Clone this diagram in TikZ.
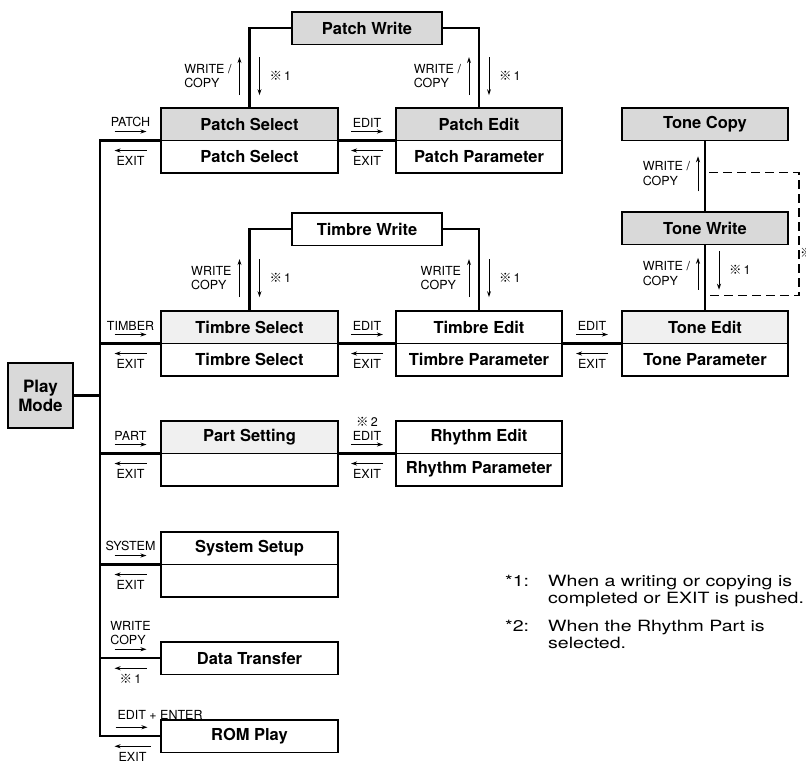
\documentclass[tikz,border=0pt]{standalone}
\usepackage{fontspec}
\setmainfont{TeX Gyre Heros}
\newfontfamily\notefont[FakeStretch=1.26]{TeX Gyre Heros}
\newfontfamily\cjk{Noto Sans CJK JP}
\usepackage{tikz}
\usetikzlibrary{arrows.meta,positioning,calc}

\newcommand{\refmark}[1]{{\cjk\bfseries ※}\,#1}

\begin{document}
\begin{tikzpicture}[
    x = 1pt, y = -1pt,
    >=Stealth,
    every node/.style = {font=\fontsize{12.5}{14.5}\selectfont},
    % Named styles
    box/.style      = {draw, line width=1.5pt, outer sep=0pt, inner sep=0pt,
                       minimum height=32.5pt,
                       font=\fontsize{16.5}{19}\selectfont\bfseries},
    selbox/.style   = {box, minimum width=177pt},
    editbox/.style  = {box, minimum width=166pt},
    writebox/.style = {box, minimum width=150pt},
    graybox/.style  = {fill=gray!30},
    lightbox/.style = {fill=gray!12},
    link/.style     = {line width=2.2pt},
    keyarrow/.style = {-{Stealth[length=6pt,width=4pt]}, line width=1pt},
    keylab/.style   = {inner sep=1.5pt, align=left},
    dashlink/.style = {dashed, dash pattern=on 9pt off 5pt, line width=1.2pt},
    note/.style     = {font=\notefont\fontsize{15.5}{17}\selectfont, align=left,
                       inner sep=0pt, anchor=north west},
]
\useasboundingbox (0,0) rectangle (806,764);

% ── Dimensions (1pt = 1 pixel of the page) ───────────────────────────────────
\def\busx{100}   % x of the bus line from Play Mode

% ── Play mode ─────────────────────────────────────────────────────────────────
\node[box, graybox, minimum width=65pt, minimum height=65pt, align=center,
      font=\fontsize{17}{19}\selectfont\bfseries] (play) at (40.5,395.5) {Play\\Mode};
\coordinate (bus) at (\busx,0);

% ── Patch ─────────────────────────────────────────────────────────────────────
\node[selbox, graybox, anchor=north west] (psel) at (161,108) {Patch Select};
\node[selbox, below=0pt of psel] (pselpar) {Patch Select};
\node[editbox, graybox, anchor=north west] (pedit) at (396,108) {Patch Edit};
\node[editbox, below=0pt of pedit] (pedpar) {Patch Parameter};
\node[writebox, graybox, anchor=north west] (pwrite) at (292,12) {Patch Write};

% ── Timbre ────────────────────────────────────────────────────────────────────
\node[selbox, lightbox, anchor=north west] (tsel) at (161,311) {Timbre Select};
\node[selbox, below=0pt of tsel] (tselpar) {Timbre Select};
\node[editbox, anchor=north west] (tedit) at (396,311) {Timbre Edit};
\node[editbox, below=0pt of tedit] (tedpar) {Timbre Parameter};
\node[writebox, anchor=north west] (twrite) at (292,213) {Timbre Write};

% ── Tone ──────────────────────────────────────────────────────────────────────
\node[editbox, lightbox, anchor=north west] (nedit) at (622,311) {Tone Edit};
\node[editbox, below=0pt of nedit] (nedpar) {Tone Parameter};
\node[editbox, graybox, anchor=north west] (nwrite) at (622,212) {Tone Write};
\node[editbox, graybox, anchor=north west] (ncopy) at (622,108) {Tone Copy};

% ── Part / Rhythm ─────────────────────────────────────────────────────────────
\node[selbox, lightbox, anchor=north west] (part) at (161,421) {Part Setting};
\node[selbox, below=0pt of part] (partlow) {};
\node[editbox, anchor=north west] (redit) at (396,421) {Rhythm Edit};
\node[editbox, below=0pt of redit] (redpar) {Rhythm Parameter};

% ── System, data, ROM ─────────────────────────────────────────────────────────
\node[selbox, anchor=north west] (sys) at (161,532) {System Setup};
\node[selbox, below=0pt of sys] (syslow) {};
\node[selbox, anchor=north west] (data) at (161,642) {Data Transfer};
\node[selbox, anchor=north west] (rom) at (161,720) {ROM Play};

% ── Links ─────────────────────────────────────────────────────────────────────
\draw[link] (play.east) -- (play.east -| bus);
\draw[link] (psel.south west) -- (bus |- psel.south) -- (bus |- rom.west) -- (rom.west);
\foreach \b in {tsel, part, sys}
    \draw[link] (bus |- \b.south) -- (\b.south west);
\draw[link] (bus |- data.west) -- (data.west);
\foreach \a/\b in {psel/pedit, tsel/tedit, tedit/nedit, part/redit}
    \draw[link] (\a.south east) -- (\b.south west);
% write loops
\draw[link] (psel.north) |- (pwrite.west);
\draw[link] (pedit.north) |- (pwrite.east);
\draw[link] (tsel.north) |- (twrite.west);
\draw[link] (tedit.north) |- (twrite.east);
\draw[link] (ncopy.south) -- (nwrite.north);
\draw[link] (nwrite.south) -- (nedit.north);

% ── Key arrows in the gaps ────────────────────────────────────────────────────
\foreach \b in {psel, tsel, part, sys}
    \coordinate (g\b) at ($(bus |- \b.south)!.5!(\b.south west)$);
\foreach \b in {data, rom}
    \coordinate (g\b) at ($(bus |- \b.west)!.5!(\b.west)$);
\foreach \a/\b in {psel/pedit, tsel/tedit, tedit/nedit, part/redit}
    \coordinate (g\b) at ($(\a.south east)!.5!(\b.south west)$);

\foreach \g/\up/\dn in {gpsel/PATCH/EXIT, gpedit/EDIT/EXIT, gtsel/TIMBER/EXIT,
                        gtedit/EDIT/EXIT, gnedit/EDIT/EXIT, gpart/PART/EXIT,
                        gredit/EDIT/EXIT, gsys/SYSTEM/EXIT,
                        gdata/{WRITE\\COPY}/{\refmark1}} {
    \draw[keyarrow] ([shift={(-16,-9)}]\g) -- ([shift={(16,-9)}]\g)
        node[keylab, above=2.5pt, midway] (\g-up) {\up};
    \draw[keyarrow] ([shift={(16,10)}]\g) -- ([shift={(-16,10)}]\g)
        node[keylab, below=4pt, midway] (\g-dn) {\dn};
}
\node[keylab, above=1pt of gredit-up] (star2) {\refmark2};

% ROM play
\draw[keyarrow] ([shift={(-15,-9)}]grom) -- ([shift={(17,-9)}]grom)
    node[keylab, above=6pt, pos=0, anchor=south west] (grom-up) {EDIT + ENTER};
\draw[keyarrow] ([shift={(20,10)}]grom) -- ([shift={(-16,10)}]grom)
    node[keylab, below=4pt, midway] (grom-dn) {EXIT};

% ── Write / copy arrows on the loops ──────────────────────────────────────────
\coordinate (wpl) at ($(psel.north)!.5!(psel.north |- pwrite.west)$);
\coordinate (wpr) at ($(pedit.north)!.5!(pedit.north |- pwrite.east)$);
\coordinate (wtl) at ($(tsel.north)!.5!(tsel.north |- twrite.west)$);
\coordinate (wtr) at ($(tedit.north)!.5!(tedit.north |- twrite.east)$);

\foreach \w/\lab in {wpl/{WRITE /\\COPY}, wpr/{WRITE /\\COPY},
                     wtl/{WRITE\\COPY}, wtr/{WRITE\\COPY}} {
    \draw[keyarrow] ([shift={(-10,27)}]\w) -- ([shift={(-10,-11)}]\w)
        node[keylab, left=6pt, midway] (\w-lab) {\lab};
    \draw[keyarrow] ([shift={(10,-11)}]\w) -- ([shift={(10,27)}]\w)
        node[keylab, right=8pt, midway] (\w-ref) {\refmark1};
}

% tone column
\coordinate (nu) at ($(ncopy.south)!.5!(nwrite.north)$);
\coordinate (nl) at ($(nwrite.south)!.5!(nedit.north)$);
\draw[keyarrow] ([shift={(-7,15)}]nu) -- ([shift={(-7,-20)}]nu)
    node[keylab, left=6pt, midway] (nu-lab) {WRITE /\\COPY};
\draw[keyarrow] ([shift={(-7,12)}]nl) -- ([shift={(-7,-20)}]nl)
    node[keylab, left=6pt, midway] (nl-lab) {WRITE /\\COPY};
\draw[keyarrow] ([shift={(14,-27)}]nl) -- ([shift={(14,12)}]nl)
    node[keylab, right=8pt, midway] (nl-ref) {\refmark1};
\draw[dashlink] ([shift={(4,-4)}]nu) -- ++(90,0) |- ([shift={(4,18)}]nl);
\node[keylab, anchor=west, inner sep=0pt] (ncut) at (800,253) {\refmark1};

% ── Notes ─────────────────────────────────────────────────────────────────────
\node[note] (fn1k) at (505,574.5) {*1:};
\node[note] (fn1) at (548,574.5) {When a writing or copying is\\completed or EXIT is pushed.};
\node[note] (fn2k) at (505,619.5) {*2:};
\node[note] (fn2) at (548,619.5) {When the Rhythm Part is\\selected.};

\end{tikzpicture}
\end{document}
